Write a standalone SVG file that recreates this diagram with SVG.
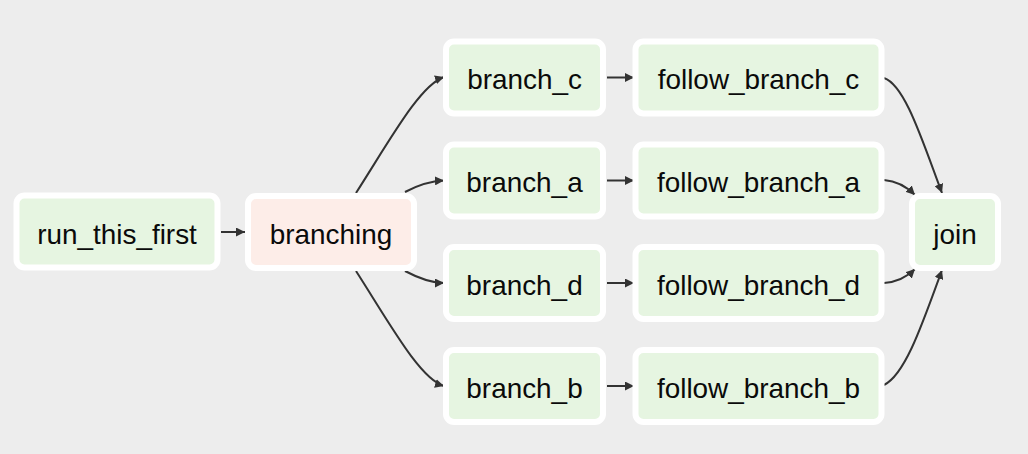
<svg xmlns="http://www.w3.org/2000/svg" width="1028" height="454" viewBox="0 0 1028 454">
  <style>
    .bg { fill: #ededed; }
    .node rect { stroke: #ffffff; stroke-width: 6; }
    .task rect { fill: #e6f5e1; }
    .branch rect { fill: #fdede8; }
    .node text { font-family: "Liberation Sans", Arial, Helvetica, sans-serif; font-size: 27.9px; fill: #0a0a0a; text-anchor: middle; }
    .edges path { fill: none; stroke: #333333; stroke-width: 2; marker-end: url(#arrow); }
  </style>
  <defs>
    <marker id="arrow" viewBox="0 0 10 10" refX="10" refY="5" markerWidth="9" markerHeight="9" markerUnits="userSpaceOnUse" orient="auto">
      <path d="M0,0 L10,5 L0,10 z" fill="#333333"/>
    </marker>
  </defs>

  <rect class="bg" x="0" y="0" width="1028" height="454"/>

  <g class="edges" id="edges">
    <path d="M221,232 L245,232"/>
    <path d="M356,193 C390,140 420,85 444,77"/>
    <path d="M405,192 C420,184 432,181 444,180.5"/>
    <path d="M405,271 C420,279 432,283 444,283"/>
    <path d="M356,271 C390,324 420,379 444,386"/>
    <path d="M607,77.5 L634,77.5"/>
    <path d="M607,180.5 L634,180.5"/>
    <path d="M607,283 L634,283"/>
    <path d="M607,386 L634,386"/>
    <path d="M884,78 C905,85 922,140 942,193"/>
    <path d="M884,180 C897,181 907,187 915,195"/>
    <path d="M884,283 C897,282 907,277 915,269"/>
    <path d="M884,385 C905,375 922,325 942,270"/>
  </g>

  <g id="run_this_first" class="node task">
    <rect x="16.5" y="195.5" width="201" height="72" rx="8"/>
    <text x="117" y="243.5">run_this_first</text>
  </g>
  <g id="branching" class="node branch">
    <rect x="248" y="196" width="166" height="72" rx="8"/>
    <text x="331" y="243.5">branching</text>
  </g>

  <g id="branch_c" class="node task">
    <rect x="446" y="41.5" width="157" height="72" rx="8"/>
    <text x="524.5" y="89">branch_c</text>
  </g>
  <g id="branch_a" class="node task">
    <rect x="446" y="144.5" width="157" height="72" rx="8"/>
    <text x="524.5" y="192">branch_a</text>
  </g>
  <g id="branch_d" class="node task">
    <rect x="446" y="247" width="157" height="72" rx="8"/>
    <text x="524.5" y="295">branch_d</text>
  </g>
  <g id="branch_b" class="node task">
    <rect x="446" y="350" width="157" height="72" rx="8"/>
    <text x="524.5" y="398">branch_b</text>
  </g>

  <g id="follow_branch_c" class="node task">
    <rect x="635.5" y="41.5" width="246" height="72" rx="8"/>
    <text x="758.5" y="89">follow_branch_c</text>
  </g>
  <g id="follow_branch_a" class="node task">
    <rect x="635.5" y="144.5" width="246" height="72" rx="8"/>
    <text x="758.5" y="192">follow_branch_a</text>
  </g>
  <g id="follow_branch_d" class="node task">
    <rect x="635.5" y="247" width="246" height="72" rx="8"/>
    <text x="758.5" y="295">follow_branch_d</text>
  </g>
  <g id="follow_branch_b" class="node task">
    <rect x="635.5" y="350" width="246" height="72" rx="8"/>
    <text x="758.5" y="398">follow_branch_b</text>
  </g>

  <g id="join" class="node task">
    <rect x="912" y="196" width="86" height="72" rx="8"/>
    <text x="955" y="243.5">join</text>
  </g>
</svg>
